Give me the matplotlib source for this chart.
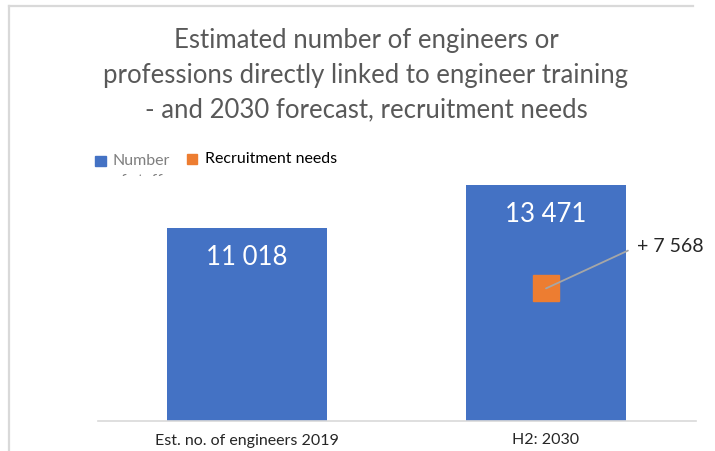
import matplotlib
matplotlib.use("Agg")
import matplotlib.pyplot as plt
from matplotlib.lines import Line2D
from matplotlib.patches import Rectangle
from matplotlib.transforms import Bbox, TransformedBbox

# ---- data ----
categories = ["Est. no. of engineers 2019", "H2: 2030"]
staff = [11018, 13471]
recruitment_cat = 1
recruitment_value = 7568
title = ("Estimated number of engineers or\n"
         "professions directly linked to engineer training\n"
         "- and 2030 forecast, recruitment needs")
legend_labels = ["Number\nof staff", "Recruitment needs"]

BLUE = "#4472C4"
ORANGE = "#ED7D31"
GRID = "#D9D9D9"
FONT = "Lato"

W, H = 715, 451
fig = plt.figure(figsize=(W / 100, H / 100), dpi=100)


def fx(px):
    return px / W


def fy(py):
    return 1 - py / H


def fmt(v):
    return f"{v:,}".replace(",", " ")


# outer chart frame (top and left edges visible)
fig.add_artist(Line2D([fx(9), fx(693)], [fy(6), fy(6)], color=GRID, lw=1.6))
fig.add_artist(Line2D([fx(9), fx(9)], [fy(6), fy(451)], color=GRID, lw=1.6))

# plot area: y=0 at pixel row 421, top of tallest bar at row 185
ax = fig.add_axes([fx(97.5), fy(421), fx(598), (421 - 185) / H])
ax.set_xlim(-0.5, 1.5)
ax.set_ylim(0, staff[1])
x = list(range(len(categories)))
ax.bar(x, staff, width=0.532, color=BLUE, zorder=2)
for xi, v in zip(x, staff):
    ax.text(xi, v - 1700, fmt(v), ha="center", va="center", color="white",
            fontsize=18.5, family=FONT)

ax.plot([recruitment_cat], [recruitment_value], marker="s", markersize=19,
        color=ORANGE, linestyle="none", zorder=3, clip_on=False)
ax.annotate(f"+ {fmt(recruitment_value)}", xy=(recruitment_cat, recruitment_value),
            xytext=(91, 42), textcoords="offset pixels", ha="left", va="center",
            fontsize=14, family=FONT, color="#262626",
            arrowprops=dict(arrowstyle="-", color="#A6A6A6", lw=1.3,
                            relpos=(0, 0.5), shrinkA=5, shrinkB=0),
            annotation_clip=False, zorder=4)

for s in ["top", "right", "left"]:
    ax.spines[s].set_visible(False)
ax.spines["bottom"].set_color(GRID)
ax.spines["bottom"].set_linewidth(1.2)
ax.set_yticks([])
ax.set_xticks(x)
ax.set_xticklabels(categories, fontsize=11.5, family=FONT, color="#262626")
ax.tick_params(axis="x", length=0, pad=9)
ax.set_facecolor("none")

# title
fig.text(fx(366), fy(75), title, ha="center", va="center", fontsize=18.5,
         family=FONT, color="#595959", linespacing=1.48)

# legend (first entry's label wraps and is cut by the legend box)
fig.add_artist(Rectangle((fx(95), fy(166)), fx(11), 10 / H, color=BLUE))
t = fig.text(fx(112), fy(154), legend_labels[0], ha="left", va="top",
             fontsize=11.5, family=FONT, color="#7F7F7F", linespacing=1.55)
t.set_clip_box(TransformedBbox(Bbox([[fx(105), fy(176)], [fx(180), fy(145)]]),
                               fig.transFigure))
t.set_clip_on(True)

fig.add_artist(Rectangle((fx(187), fy(164)), fx(10), 10 / H, color=ORANGE))
fig.text(fx(205), fy(159), legend_labels[1], ha="left", va="center",
         fontsize=11.5, family=FONT, color="#000000")

fig.savefig("out.png", dpi=100)
